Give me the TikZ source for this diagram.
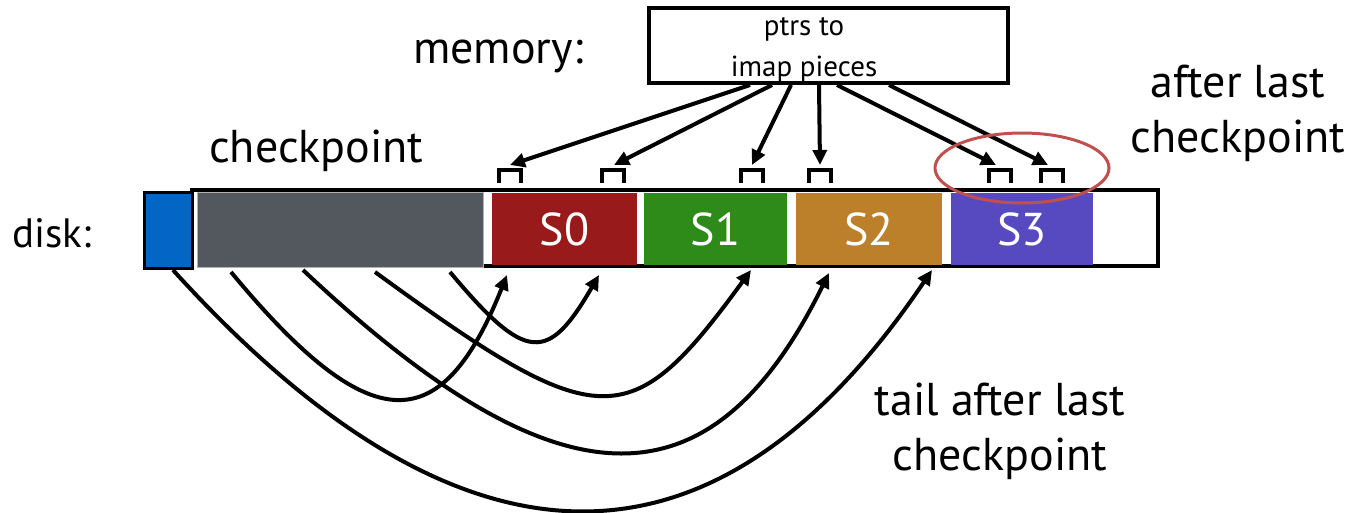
\documentclass[tikz,border=0pt]{standalone}
\usepackage{fontspec}
\setmainfont{PT Sans}
\usetikzlibrary{arrows.meta}
\definecolor{cblue}{HTML}{0366C4}
\definecolor{cgray}{HTML}{53575E}
\definecolor{cred}{HTML}{991A1A}
\definecolor{cgreen}{HTML}{2F8B19}
\definecolor{corange}{HTML}{BD802A}
\definecolor{cpurple}{HTML}{574AC0}
\definecolor{cring}{HTML}{C0504D}
\tikzset{
  big/.style={font=\fontsize{46}{55}\selectfont, inner sep=0pt, align=center},
  seg/.style={inner sep=0pt, minimum height=72pt, text=white, font=\fontsize{46}{55}\selectfont},
  ptr/.style={line width=4pt, -{Triangle[length=15pt,width=14pt]}},
  link/.style={line width=4pt, -{Triangle[length=15pt,width=14pt]}},
  marker/.style={line width=4.5pt, line join=miter},
}
\begin{document}
\begin{tikzpicture}[x=1pt,y=-1pt]
\useasboundingbox (0,0) rectangle (1350,512);
% labels
\node[big, anchor=base west] (memlbl) at (413,63) {memory:};
\node[big, anchor=base west] (cplbl) at (209,162) {checkpoint};
\node[inner sep=0pt, anchor=base west, font=\fontsize{41}{48}\selectfont] (disklbl) at (12,247) {disk:};
\node[big, anchor=base] (afterlbl) at (1238,152) {after last\\checkpoint};
\node[big, anchor=base] (taillbl) at (1000,470) {tail after last\\checkpoint};
% memory box
\draw[line width=4pt] (649,8) rectangle (1008,83);
\node[inner sep=0pt, anchor=base, align=center, font=\fontsize{29}{41}\selectfont] (ptrs) at (804,76) {ptrs to\\imap pieces};
% disk
\draw[line width=4pt] (484,266) -- (1158,266) -- (1158,190) -- (192,190) -- (192,268);
\node[draw=black, line width=3pt, fill=cblue, minimum width=48pt, minimum height=76pt, inner sep=0pt] (blue) at (168,230) {};
\node[draw=gray!60, line width=1pt, fill=cgray, minimum width=286pt, minimum height=75pt, inner sep=0pt] (cp) at (340,229.5) {};
\node[seg, fill=cred, minimum width=145pt] (s0) at (564.5,229) {S0};
\node[seg, fill=cgreen, minimum width=143pt] (s1) at (715.5,229) {S1};
\node[seg, fill=corange, minimum width=146pt] (s2) at (869,229) {S2};
\node[seg, fill=cpurple, minimum width=142pt] (s3) at (1022,229) {S3};
% markers
\foreach \n/\c in {m0/510, m1/613, m2/752, m3/820, m4/1000, m5/1052}{
  \coordinate (\n) at (\c,170);
  \draw[marker] ([xshift=-11pt,yshift=-13pt]\n) -- ([xshift=-11pt]\n) -- ([xshift=11pt]\n) -- ([xshift=11pt,yshift=-13pt]\n);
}
% pointer arrows
\foreach \s/\t/\n in {750/510/m0, 772/614/m1, 791/752/m2, 819/820/m3, 837/996/m4, 889/1048/m5}{
  \coordinate (st\n) at (\s,85);
  \coordinate (tp\n) at (\t,165);
  \draw[ptr] (st\n) -- (tp\n);
}
% ring
\draw[cring, line width=3pt] (1022,168) ellipse [x radius=87, y radius=35];
% curved links
\coordinate (a1) at (173,270); \coordinate (b1) at (932,270);
\coordinate (a2) at (231,272); \coordinate (b2) at (507,275);
\coordinate (a3) at (303,270); \coordinate (b3) at (829,273);
\coordinate (a4) at (375,272); \coordinate (b4) at (751,270);
\coordinate (a5) at (450,272); \coordinate (b5) at (599,275);
\draw[link] (a1) .. controls (463,590) and (716,590) .. (b1);
\draw[link] (a2) .. controls (370,440) and (441,440) .. (b2);
\draw[link] (a3) .. controls (560,512) and (711,512) .. (b3);
\draw[link] (a4) .. controls (600,436) and (630,436) .. (b4);
\draw[link] (a5) .. controls (526,363) and (548,363) .. (b5);
\end{tikzpicture}
\end{document}
